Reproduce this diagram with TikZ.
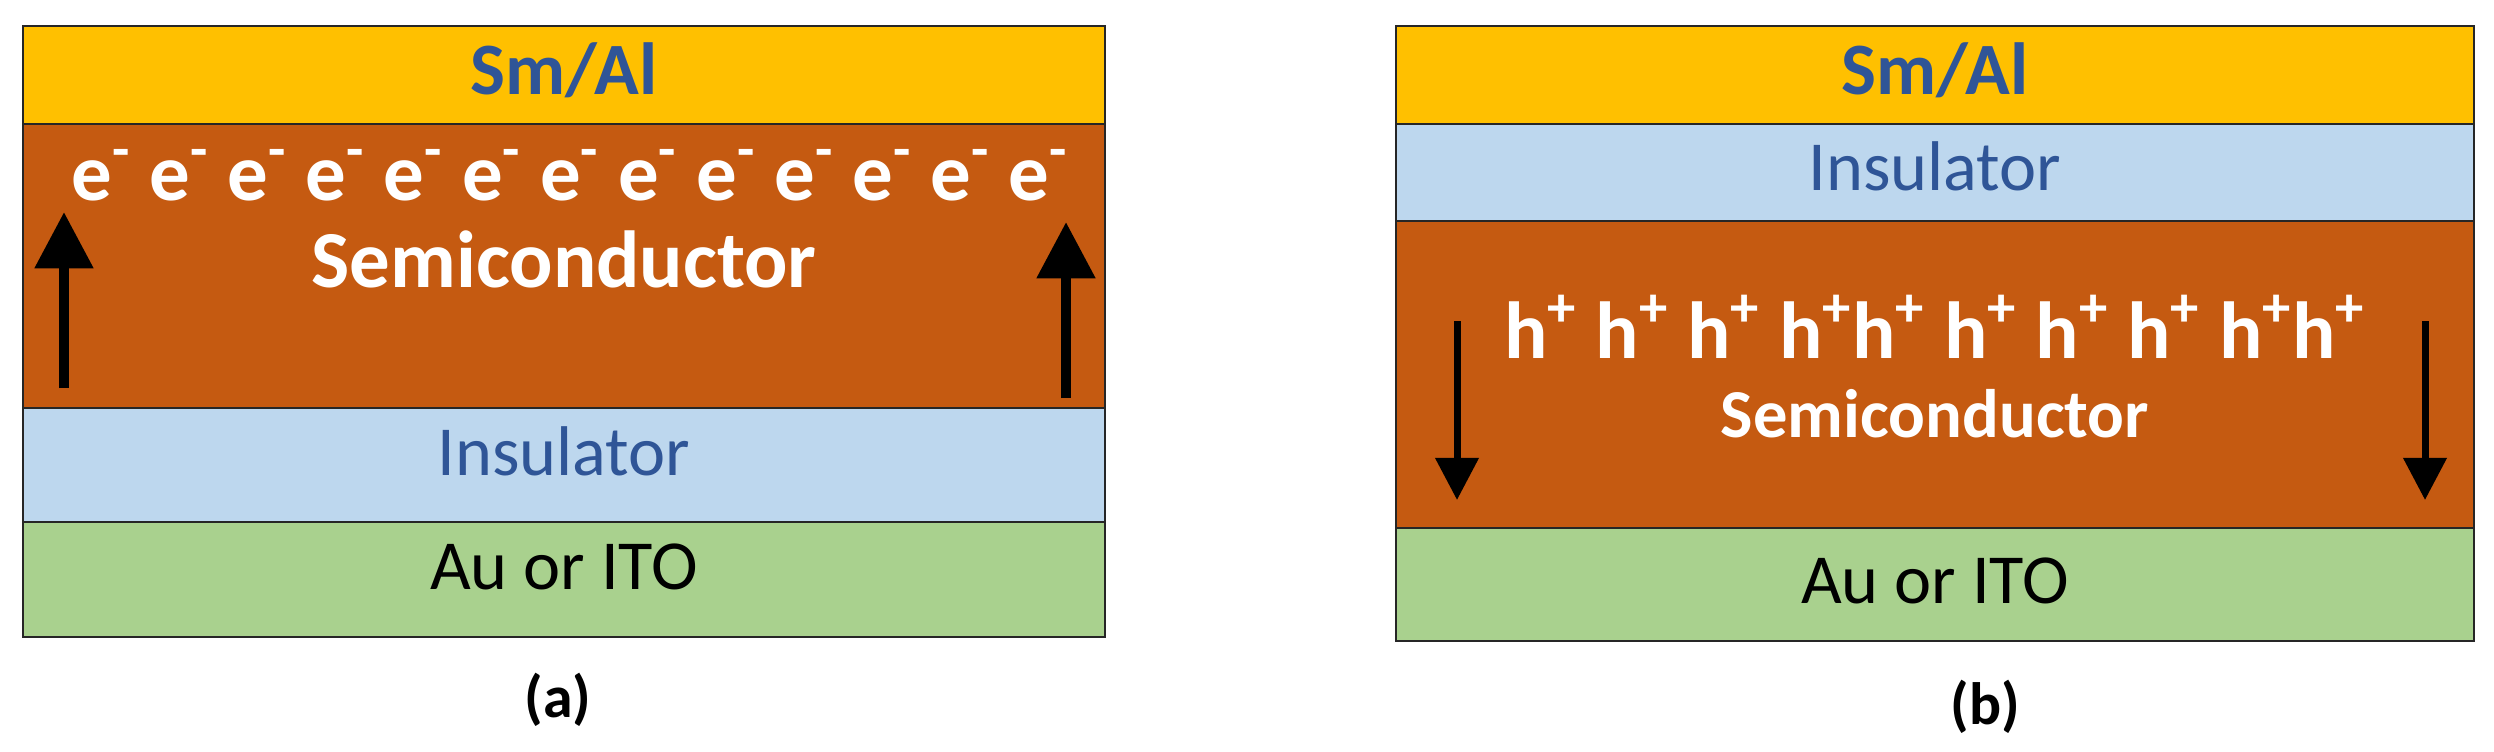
\documentclass[tikz,border=0pt]{standalone}
\usepackage{fontspec}
\setmainfont{Carlito}
\usetikzlibrary{arrows.meta}
\definecolor{smal}{HTML}{FFC000}
\definecolor{semi}{HTML}{C55A11}
\definecolor{ins}{HTML}{BDD7EE}
\definecolor{au}{HTML}{A9D18E}
\definecolor{blu}{HTML}{2F5597}
\begin{document}
\begin{tikzpicture}[x=0.01cm,y=-0.01cm,
  layer/.style={draw=black!85,line width=0.5pt},
  bl/.style={text=blu,font=\fontsize{20}{22}\selectfont},
  blb/.style={text=blu,font=\bfseries\fontsize{21}{22}\selectfont},
  wt/.style={text=white,font=\bfseries\fontsize{#1}{#1}\selectfont},
  bk/.style={text=black,font=\fontsize{20}{22}\selectfont},
  panlabel/.style={font=\bfseries\fontsize{17}{19}\selectfont},
  upar/.style={line width=3pt,-{Triangle[width=16pt,length=16pt]}},
  dnar/.style={line width=2pt,-{Triangle[width=12pt,length=12pt]}}]
\useasboundingbox (0,0) rectangle (2494,751);
% panel a
\filldraw[layer,fill=smal] (23,26) rectangle (1105,124);
\filldraw[layer,fill=semi] (23,124) rectangle (1105,408);
\filldraw[layer,fill=ins] (23,408) rectangle (1105,522);
\filldraw[layer,fill=au] (23,522) rectangle (1105,637);
\node[blb,anchor=base] (a1) at (564,94) {Sm/Al};
\node[wt=23,anchor=base] (a2) at (570,200) {e\textsuperscript{-} e\textsuperscript{-} e\textsuperscript{-} e\textsuperscript{-} e\textsuperscript{-} e\textsuperscript{-} e\textsuperscript{-} e\textsuperscript{-} e\textsuperscript{-} e\textsuperscript{-} e\textsuperscript{-} e\textsuperscript{-} e\textsuperscript{-}};
\node[wt=23,anchor=base] (a3) at (564,287) {Semiconductor};
\node[bl,anchor=base] (a4) at (564,475) {Insulator};
\node[bk,anchor=base] (a5) at (564,589) {Au or ITO};
\node[panlabel] (la) at (558,700) {(a)};
\coordinate (a6s) at (64,388); \coordinate (a6e) at (64,212);
\coordinate (a7s) at (1066,398); \coordinate (a7e) at (1066,222);
\draw[upar] (a6s) -- (a6e);
\draw[upar] (a7s) -- (a7e);
% panel b
\filldraw[layer,fill=smal] (1396,26) rectangle (2474,124);
\filldraw[layer,fill=ins] (1396,124) rectangle (2474,221);
\filldraw[layer,fill=semi] (1396,221) rectangle (2474,528);
\filldraw[layer,fill=au] (1396,528) rectangle (2474,641);
\node[blb,anchor=base] (b1) at (1935,94) {Sm/Al};
\node[bl,anchor=base] (b2) at (1935,190) {Insulator};
\node[wt=23,anchor=base] (b3) at (1935,358) {h\textsuperscript{+} h\textsuperscript{+} h\textsuperscript{+} h\textsuperscript{+}h\textsuperscript{+} h\textsuperscript{+} h\textsuperscript{+} h\textsuperscript{+} h\textsuperscript{+}h\textsuperscript{+}};
\node[wt=19.5,anchor=base] (b4) at (1935,437) {Semiconductor};
\node[bk,anchor=base] (b5) at (1935,603) {Au or ITO};
\node[panlabel] (lb) at (1985,707) {(b)};
\coordinate (b6s) at (1457,321); \coordinate (b6e) at (1457,500);
\coordinate (b7s) at (2425,321); \coordinate (b7e) at (2425,500);
\draw[dnar] (b6s) -- (b6e);
\draw[dnar] (b7s) -- (b7e);
\end{tikzpicture}
\end{document}
